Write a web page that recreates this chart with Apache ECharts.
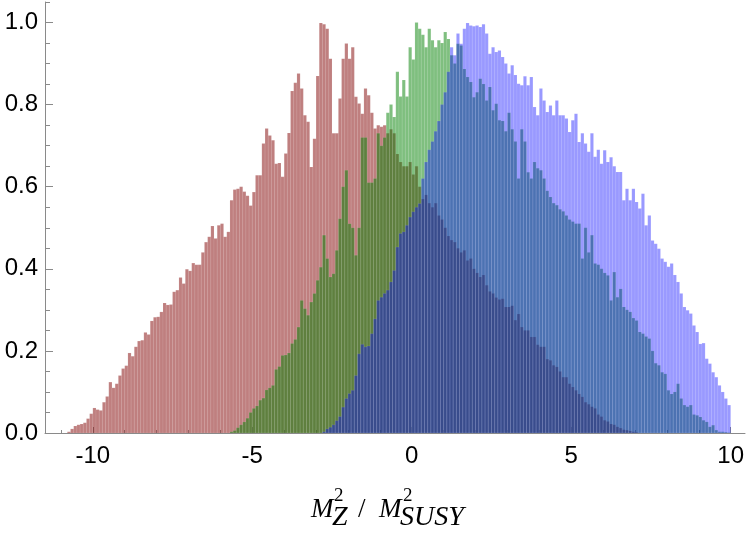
<!DOCTYPE html>
<html>
<head>
<meta charset="utf-8" />
<title>ECharts</title>
<script src="https://cdn.jsdelivr.net/npm/echarts@6/dist/echarts.min.js"></script>
</head>
<body style="margin:0">
<div id="main" style="width:750px;height:534px;"></div>
<script type="text/javascript">
// histogram bins, width 0.1, heights normalised to the tallest bin
var BIN = 0.1;

var redStart = -10.8;
var red = [
  0.003, 0.01, 0.017, 0.02, 0.022, 0.025, 0.035, 0.047, 0.061, 0.057,   // -10.8
  0.055, 0.075, 0.089, 0.124, 0.11, 0.12, 0.14, 0.157, 0.164, 0.195,    // -9.8
  0.187, 0.21, 0.224, 0.226, 0.245, 0.24, 0.273, 0.282, 0.283, 0.295,   // -8.8
  0.317, 0.312, 0.313, 0.344, 0.348, 0.379, 0.364, 0.399, 0.395, 0.414, // -7.8
  0.41, 0.41, 0.44, 0.465, 0.478, 0.504, 0.474, 0.506, 0.51, 0.478,     // -6.8
  0.49, 0.567, 0.593, 0.595, 0.6, 0.588, 0.578, 0.554, 0.587, 0.628,    // -5.8
  0.628, 0.705, 0.742, 0.725, 0.713, 0.656, 0.658, 0.624, 0.681, 0.731, // -4.8
  0.833, 0.853, 0.876, 0.839, 0.774, 0.758, 0.648, 0.717, 0.87, 0.999,  // -3.8
  0.996, 0.985, 0.912, 0.73, 0.73, 0.815, 0.912, 0.949, 0.912, 0.94,    // -2.8
  0.819, 0.803, 0.778, 0.839, 0.823, 0.78, 0.742, 0.75, 0.746, 0.75,    // -1.8
  0.73, 0.74, 0.73, 0.68, 0.66, 0.65, 0.65, 0.66, 0.63, 0.65,           // -0.8
  0.6, 0.57, 0.58, 0.56, 0.55, 0.56, 0.53, 0.52, 0.5, 0.48,             // 0.2
  0.47, 0.465, 0.45, 0.44, 0.445, 0.42, 0.425, 0.4, 0.39, 0.38,         // 1.2
  0.385, 0.36, 0.345, 0.34, 0.33, 0.325, 0.327, 0.307, 0.307, 0.31,     // 2.2
  0.275, 0.29, 0.258, 0.25, 0.25, 0.234, 0.234, 0.215, 0.21, 0.21,      // 3.2
  0.18, 0.177, 0.165, 0.161, 0.15, 0.136, 0.136, 0.12, 0.112, 0.104,    // 4.2
  0.095, 0.088, 0.075, 0.07, 0.064, 0.06, 0.045, 0.04, 0.031, 0.028,    // 5.2
  0.022, 0.02, 0.015, 0.012, 0.008, 0.007, 0.005, 0.003, 0.002          // 6.2
];

var greenStart = -5.7;
var green = [
  0.003, 0.006, 0.013, 0.02, 0.027, 0.036, 0.05, 0.06, 0.066, 0.08,     // -5.7
  0.085, 0.105, 0.11, 0.116, 0.155, 0.162, 0.189, 0.19, 0.195, 0.218,   // -4.7
  0.228, 0.258, 0.323, 0.303, 0.287, 0.319, 0.34, 0.372, 0.404, 0.482,  // -3.7
  0.425, 0.38, 0.388, 0.445, 0.522, 0.6, 0.64, 0.51, 0.5, 0.433,        // -2.7
  0.5, 0.72, 0.72, 0.61, 0.61, 0.62, 0.73, 0.7, 0.72, 0.78,             // -1.7
  0.8, 0.77, 0.88, 0.82, 0.86, 0.82, 0.94, 0.91, 1.0, 0.985,            // -0.7
  0.97, 0.94, 0.985, 0.957, 0.94, 0.957, 0.95, 0.977, 0.96, 0.92,       // 0.3
  0.9, 0.948, 0.944, 0.887, 0.867, 0.855, 0.818, 0.83, 0.863, 0.85,     // 1.3
  0.81, 0.843, 0.786, 0.802, 0.762, 0.76, 0.735, 0.78, 0.74, 0.71,      // 2.3
  0.62, 0.74, 0.71, 0.635, 0.62, 0.66, 0.645, 0.64, 0.62, 0.59,         // 3.3
  0.575, 0.56, 0.555, 0.545, 0.54, 0.53, 0.52, 0.515, 0.51, 0.51,       // 4.3
  0.425, 0.5, 0.44, 0.482, 0.413, 0.41, 0.4, 0.39, 0.384, 0.323,        // 5.3
  0.392, 0.331, 0.351, 0.307, 0.3, 0.295, 0.28, 0.274, 0.246, 0.242,    // 6.3
  0.235, 0.23, 0.2, 0.17, 0.165, 0.148, 0.144, 0.104, 0.095, 0.1,       // 7.3
  0.12, 0.084, 0.068, 0.064, 0.068, 0.045, 0.043, 0.039, 0.031, 0.027,  // 8.3
  0.015, 0.019, 0.007, 0.003, 0.003, 0.002, 0.001                       // 9.3
];

var blueStart = -2.8;
var blue = [
  0.003, 0.01, 0.014, 0.02, 0.03, 0.04, 0.063, 0.084, 0.096, 0.104,     // -2.8
  0.14, 0.193, 0.216, 0.21, 0.212, 0.242, 0.278, 0.323, 0.331, 0.34,    // -1.8
  0.348, 0.368, 0.396, 0.453, 0.486, 0.49, 0.506, 0.526, 0.539, 0.55,   // -0.8
  0.559, 0.62, 0.66, 0.69, 0.71, 0.735, 0.76, 0.8, 0.83, 0.88,          // 0.2
  0.94, 0.92, 0.973, 0.948, 0.985, 0.999, 0.993, 0.991, 0.993, 0.989,   // 1.2
  0.996, 0.973, 0.924, 0.94, 0.928, 0.932, 0.916, 0.9, 0.876, 0.896,    // 2.2
  0.872, 0.851, 0.847, 0.869, 0.847, 0.867, 0.794, 0.774, 0.839, 0.81,  // 3.2
  0.782, 0.798, 0.774, 0.81, 0.774, 0.774, 0.766, 0.733, 0.762, 0.778,  // 4.2
  0.709, 0.73, 0.705, 0.685, 0.73, 0.673, 0.69, 0.656, 0.689, 0.66,     // 5.2
  0.672, 0.65, 0.636, 0.636, 0.567, 0.595, 0.567, 0.595, 0.563, 0.547, // 6.2
  0.583, 0.506, 0.53, 0.469, 0.461, 0.449, 0.425, 0.417, 0.405, 0.413,  // 7.2
  0.385, 0.368, 0.34, 0.307, 0.299, 0.291, 0.262, 0.246, 0.217, 0.219,  // 8.2
  0.181, 0.169, 0.148, 0.136, 0.116, 0.1, 0.084, 0.068                  // 9.2
];

var xLabels = [-10, -5, 0, 5, 10];
var xMinor = [-11, -10, -9, -8, -7, -6, -5, -4, -3, -2, -1, 0, 1, 2, 3, 4, 5, 6, 7, 8, 9, 10];
var yLabels = [0, 0.2, 0.4, 0.6, 0.8, 1.0];
var yMinor = [0, 0.05, 0.1, 0.15, 0.2, 0.25, 0.3, 0.35, 0.4, 0.45, 0.5, 0.55,
              0.6, 0.65, 0.7, 0.75, 0.8, 0.85, 0.9, 0.95, 1.0, 1.05];

function bins(start, values) {
  return values.map(function (v, i) {
    return [+(start + i * BIN).toFixed(2), v];
  });
}

function histSeries(name, start, values, color) {
  return {
    name: name,
    type: 'custom',
    data: bins(start, values),
    encode: { x: 0, y: 1 },
    clip: true,
    renderItem: function (params, api) {
      var x0 = api.value(0);
      var h = api.value(1);
      var a = api.coord([x0, h]);
      var b = api.coord([x0 + BIN, 0]);
      return {
        type: 'rect',
        shape: { x: a[0], y: a[1], width: b[0] - a[0], height: b[1] - a[1] },
        style: { fill: color, stroke: 'rgba(255,255,255,0.16)', lineWidth: 0.5 }
      };
    }
  };
}

var axisGray = '#8a8a8a';
var labelFont = { color: '#000', fontSize: 24, fontFamily: 'Liberation Sans' };

var chartDom = document.getElementById('main');
var myChart = echarts.init(chartDom);
var option = {
  animation: false,
  grid: { left: 45, right: 5, top: 2, bottom: 101 },
  xAxis: [
    {
      type: 'value', min: -11.5, max: 10.45,
      splitLine: { show: false },
      axisLine: { onZero: false, lineStyle: { color: axisGray, width: 1 } },
      axisTick: { inside: true, length: 3, customValues: xMinor, lineStyle: { color: axisGray } },
      axisLabel: Object.assign({ customValues: xLabels, margin: 11 }, labelFont)
    },
    {
      type: 'value', min: -11.5, max: 10.45, position: 'bottom',
      splitLine: { show: false },
      axisLine: { show: false, onZero: false },
      axisTick: { inside: true, length: 6, customValues: xLabels, lineStyle: { color: axisGray } },
      axisLabel: { show: false }
    }
  ],
  yAxis: [
    {
      type: 'value', min: 0, max: 1.05,
      splitLine: { show: false },
      axisLine: { show: true, onZero: false, lineStyle: { color: axisGray, width: 1 } },
      axisTick: { inside: true, length: 8, customValues: yLabels, lineStyle: { color: axisGray } },
      axisLabel: Object.assign({
        customValues: yLabels, margin: 7,
        formatter: function (v) { return v.toFixed(1); }
      }, labelFont)
    },
    {
      type: 'value', min: 0, max: 1.05, position: 'left',
      splitLine: { show: false },
      axisLine: { show: false, onZero: false },
      axisTick: { inside: true, length: 5, customValues: yMinor, lineStyle: { color: axisGray } },
      axisLabel: { show: false }
    }
  ],
  graphic: [
    { type: 'text', x: 311, y: 509.5, style: { text: 'M', font: 'italic 27px "Liberation Serif"', fill: '#000', verticalAlign: 'middle' } },
    { type: 'text', x: 334, y: 496, style: { text: '2', font: '19px "Liberation Serif"', fill: '#000', verticalAlign: 'middle' } },
    { type: 'text', x: 332, y: 518, style: { text: 'Z', font: 'italic 28px "Liberation Serif"', fill: '#000', verticalAlign: 'middle' } },
    { type: 'text', x: 358, y: 509.5, style: { text: '/', font: '27px "Liberation Serif"', fill: '#000', verticalAlign: 'middle' } },
    { type: 'text', x: 379, y: 509.5, style: { text: 'M', font: 'italic 27px "Liberation Serif"', fill: '#000', verticalAlign: 'middle' } },
    { type: 'text', x: 403, y: 496, style: { text: '2', font: '19px "Liberation Serif"', fill: '#000', verticalAlign: 'middle' } },
    { type: 'text', x: 400, y: 518, style: { text: 'SUSY', font: 'italic 28px "Liberation Serif"', fill: '#000', verticalAlign: 'middle' } }
  ],
  series: [
    histSeries('red', redStart, red, 'rgba(128,0,0,0.5)'),
    histSeries('green', greenStart, green, 'rgba(0,128,0,0.5)'),
    histSeries('blue', blueStart, blue, 'rgba(0,0,255,0.4)')
  ]
};

option && myChart.setOption(option);
</script>
</body>
</html>
